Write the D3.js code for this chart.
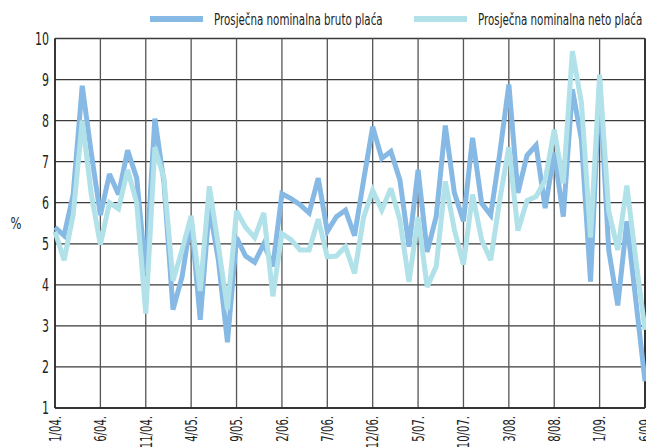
<!DOCTYPE html>
<html lang="hr">
  <head>
    <meta charset="UTF-8" />
    <title>Plaće</title>
    <style>
      body { margin: 0; background: #fff; }
      text { font-family: "Liberation Sans Narrow", "DejaVu Sans Condensed", sans-serif; fill: #222; }
    </style>
  </head>
  <body>
    <svg id="svg" width="646" height="447"></svg>

    <script src="https://d3js.org/d3.v7.min.js"></script>
    <script>
      // months 1/04 .. 6/09, one value per month
      const months = d3.range(66).map((i) => {
        const m = (i % 12) + 1;
        const y = 4 + Math.floor(i / 12);
        return m + "/" + String(y).padStart(2, "0") + ".";
      });

      const bruto = [
        5.4, 5.2, 6.2, 8.85, 7.2, 5.7, 6.7, 6.2, 7.28, 6.6, 4.3, 8.05,
        6.5, 3.4, 4.2, 5.6, 3.15, 5.9, 4.6, 2.6, 5.15, 4.7, 4.55, 5.0,
        4.45, 6.22, 6.1, 5.95, 5.75, 6.6, 5.3, 5.66, 5.82, 5.2, 6.55, 7.85,
        7.08, 7.25, 6.55, 4.93, 6.8, 4.8, 5.67, 7.88, 6.24, 5.55, 7.58, 5.99,
        5.7, 7.2, 8.88, 6.24, 7.15, 7.4, 5.87, 7.22, 5.66, 8.76, 7.53, 4.08,
        8.92, 4.85, 3.5, 5.55, 3.6, 1.65,
      ];

      const neto = [
        5.3, 4.6, 5.7, 8.0, 6.2, 4.98, 6.0, 5.85, 6.8, 6.0, 3.3, 7.35,
        6.6, 4.1, 4.85, 5.68, 3.85, 6.4, 4.95, 3.4, 5.8, 5.4, 5.15, 5.75,
        3.72, 5.25, 5.1, 4.85, 4.85, 5.6, 4.68, 4.7, 4.93, 4.28, 5.65, 6.3,
        5.82, 6.35, 5.58, 4.07, 5.65, 3.95, 4.45, 6.52, 5.34, 4.49, 6.2, 5.1,
        4.6, 6.07, 7.35, 5.32, 6.05, 6.15, 6.55, 7.78, 6.47, 9.69, 8.43, 5.15,
        9.12, 5.8, 4.85, 6.42, 4.6, 2.9,
      ];

      const yTicks = [1, 2, 3, 4, 5, 6, 7, 8, 9, 10];
      const xTicks = d3.range(0, 66, 5); // every 5th month labelled

      const series = [
        { name: "Prosječna nominalna bruto plaća", values: bruto, color: "#86b9e4" },
        { name: "Prosječna nominalna neto plaća", values: neto, color: "#b1e1e9" },
      ];

      const svg = d3.select("#svg");

      const x = d3.scaleLinear().domain([0, 65]).range([55, 645]);
      const y = d3.scaleLinear().domain([1, 10]).range([408, 38.5]);

      // grid
      svg.append("g")
        .selectAll("line")
        .data(yTicks)
        .join("line")
        .attr("x1", x(0))
        .attr("x2", x(65))
        .attr("y1", (d) => y(d))
        .attr("y2", (d) => y(d))
        .attr("stroke", "#3a3a3a")
        .attr("stroke-width", 1.3);

      svg.append("g")
        .selectAll("line")
        .data(xTicks)
        .join("line")
        .attr("x1", (d) => x(d))
        .attr("x2", (d) => x(d))
        .attr("y1", y(10))
        .attr("y2", y(1))
        .attr("stroke", "#555")
        .attr("stroke-width", 1.3);

      // axis frame
      svg.append("line")
        .attr("x1", x(0)).attr("x2", x(0))
        .attr("y1", y(10)).attr("y2", y(1))
        .attr("stroke", "#222").attr("stroke-width", 1.6);
      svg.append("line")
        .attr("x1", x(0)).attr("x2", x(65))
        .attr("y1", y(1)).attr("y2", y(1))
        .attr("stroke", "#222").attr("stroke-width", 1.6);
      svg.append("line")
        .attr("x1", x(65)).attr("x2", x(65))
        .attr("y1", y(10)).attr("y2", y(1))
        .attr("stroke", "#333").attr("stroke-width", 2);

      // lines
      const line = d3.line()
        .x((d, i) => x(i))
        .y((d) => y(d));

      svg.append("g")
        .selectAll("path")
        .data(series)
        .join("path")
        .attr("d", (d) => line(d.values))
        .attr("fill", "none")
        .attr("stroke", (d) => d.color)
        .attr("stroke-width", 5)
        .attr("stroke-linejoin", "miter")
        .attr("stroke-miterlimit", 3);

      // y labels
      svg.append("g")
        .selectAll("text")
        .data(yTicks)
        .join("text")
        .attr("x", 49)
        .attr("y", (d) => y(d))
        .attr("dy", "0.36em")
        .attr("text-anchor", "end")
        .attr("font-size", 17)
        .attr("data-squeeze", 0.72)
        .text((d) => d);

      svg.append("text")
        .attr("x", 16)
        .attr("y", 229)
        .attr("text-anchor", "middle")
        .attr("font-size", 16)
        .attr("data-squeeze", 0.8)
        .text("%");

      // x labels, rotated
      svg.append("g")
        .selectAll("text")
        .data(xTicks)
        .join("text")
        .attr("transform", (d) => `translate(${x(d)},416) rotate(-90)`)
        .attr("dy", "0.36em")
        .attr("text-anchor", "end")
        .attr("font-size", 16)
        .attr("data-squeeze", 0.7)
        .text((d) => months[d]);

      // legend
      const legendX = [150, 414];
      const legend = svg.append("g")
        .selectAll("g")
        .data(series)
        .join("g")
        .attr("transform", (d, i) => `translate(${legendX[i]},19)`);

      legend.append("line")
        .attr("x1", 0).attr("x2", 53)
        .attr("stroke", (d) => d.color)
        .attr("stroke-width", 6);

      legend.append("text")
        .attr("x", 64)
        .attr("dy", "0.36em")
        .attr("font-size", 16)
        .attr("data-squeeze", 0.715)
        .text((d) => d.name);

      // the original uses a very condensed face; squeeze every label
      svg.selectAll("text").each(function () {
        const w = this.getComputedTextLength();
        const f = +this.getAttribute("data-squeeze") || 0.76;
        d3.select(this)
          .attr("textLength", w * f)
          .attr("lengthAdjust", "spacingAndGlyphs");
      });
    </script>
  </body>
</html>
